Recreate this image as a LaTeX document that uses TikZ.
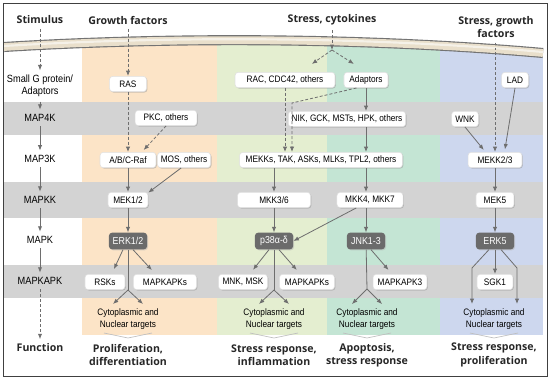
\documentclass[tikz,border=0pt]{standalone}
\usepackage{fontspec}
\setmainfont{Liberation Sans}[FakeStretch=0.88]
\newfontfamily\headfont{Open Sans}
\usetikzlibrary{arrows.meta,shadows}
\definecolor{cgrowth}{HTML}{FCE4C7}
\definecolor{cstress}{HTML}{E4EED0}
\definecolor{capop}{HTML}{C4E5D4}
\definecolor{cprolif}{HTML}{CDD7EE}
\definecolor{cband}{HTML}{D3D3D3}
\definecolor{carrow}{HTML}{6E6E6E}
\definecolor{ckinase}{HTML}{6B6B6B}
\definecolor{cmembr}{HTML}{E9DFCB}
\begin{document}
\begin{tikzpicture}[x=0.745pt, y=-0.745pt,
	every node/.style={font=\fontsize{7}{8.5}\selectfont, align=center},
	prot/.style={draw=black!12, fill=white, rounded corners=2.5pt, inner xsep=2.5pt, inner ysep=0pt, minimum height=11.5pt,
		drop shadow={shadow xshift=0.7pt, shadow yshift=-0.7pt, fill=black!40}},
	kin/.style={fill=ckinase, text=white, rounded corners=2.5pt, inner xsep=2.5pt, inner ysep=0pt, minimum height=12.5pt, minimum width=28.5pt,
		font=\fontsize{7.5}{9}\selectfont, drop shadow={shadow xshift=0.7pt, shadow yshift=-0.7pt, fill=black!30}},
	head/.style={font=\headfont\bfseries\fontsize{7.9}{10}\selectfont, text=black!85},
	lvl/.style={font=\fontsize{7.8}{9}\selectfont},
	ln/.style={draw=carrow, line width=0.6pt},
	arr/.style={ln, -{Latex[length=4pt,width=3.2pt]}},
	darr/.style={arr, dash pattern=on 2.2pt off 1.5pt}]
	\useasboundingbox (0,0) rectangle (550,379);

	\fill[cgrowth] (82,40) rectangle (217,335);
	\fill[cstress] (217,40) rectangle (327,335);
	\fill[capop] (327,40) rectangle (440,335);
	\fill[cprolif] (440,40) rectangle (543,335);
	\foreach \t/\b in {102/135,182/218,265/298}
		\fill[cband] (4,\t) rectangle (543,\b);
	\fill[white] (4,4) -- (543,4) -- (543,53) .. controls (350,36) and (150,38) .. (4,47) -- cycle;
	\draw[black!55, line width=7.5pt] (4,47) .. controls (150,38) and (350,36) .. (543,53);
	\draw[cmembr, line width=5.8pt] (4,47) .. controls (150,38) and (350,36) .. (543,53);
	\draw[white!55!cmembr, line width=1.6pt] (4,46) .. controls (150,37) and (350,35) .. (543,52);
	\draw[black!75, line width=0.6pt] (3,3) rectangle (547,376);

	\foreach \x in {128,274,367,494}
		\draw[black!25, line width=0.5pt] (\x-24,333) -- (\x,338) -- (\x+24,333);

	\node[head] (stim) at (40,20) {Stimulus};
	\node[head] (gf) at (128,20) {Growth factors};
	\node[head] (sc) at (332,20) {Stress, cytokines};
	\node[head] (sgf) at (496,27) {Stress, growth\\factors};

	\node[lvl] (lsg) at (40,86) {Small G protein/\\Adaptors};
	\node[lvl] (l4k) at (40,118) {MAP4K};
	\node[lvl] (l3k) at (40,159) {MAP3K};
	\node[lvl] (lkk) at (40,200) {MAPKK};
	\node[lvl] (lk) at (40,240) {MAPK};
	\node[lvl] (lkapk) at (40,281) {MAPKAPK};
	\node[head] (lfn) at (40,348) {Function};

	\node[prot, minimum width=27.6pt] (ras) at (128,84) {RAS};
	\node[prot, minimum width=46pt] (pkc) at (166,118) {PKC, others};
	\node[prot, minimum width=41.7pt] (raf) at (128,160) {A/B/C-Raf};
	\node[prot, minimum width=38pt] (mos) at (184,160) {MOS, others};
	\node[prot, minimum width=29.8pt] (mek12) at (128,200) {MEK1/2};
	\node[kin] (erk12) at (128,241) {ERK1/2};
	\node[prot, minimum width=29.8pt] (rsk) at (105,282) {RSKs};
	\node[prot, minimum width=47pt] (mapkapk1) at (165,282) {MAPKAPKs};
	\node (tgt1) at (128,319) {Cytoplasmic and\\Nuclear targets};
	\node[head] (fn1) at (128,355) {Proliferation,\\differentiation};

	\node[prot, minimum width=74.5pt] (rac) at (285,80) {RAC, CDC42, others};
	\node[prot, minimum width=121.4pt] (mekks) at (321,160) {MEKKs, TAK, ASKs, MLKs, TPL2, others};
	\node[prot, minimum width=54.4pt] (mkk36) at (274,200) {MKK3/6};
	\node[kin] (p38) at (274,241) {p38α-δ};
	\node[prot, minimum width=36.5pt] (mnk) at (243,282) {MNK, MSK};
	\node[prot, minimum width=41pt] (mapkapk2) at (307,282) {MAPKAPKs};
	\node (tgt2) at (274,319) {Cytoplasmic and\\Nuclear targets};
	\node[head] (fn2) at (274,355) {Stress response,\\inflammation};

	\node[prot, minimum width=32.8pt] (adapt) at (366,80) {Adaptors};
	\node[prot, minimum width=82.7pt] (nik) at (347,119) {NIK, GCK, MSTs, HPK, others};
	\node[prot, minimum width=49.2pt] (mkk47) at (370,200) {MKK4, MKK7};
	\node[kin] (jnk) at (366,241) {JNK1-3};
	\node[prot, minimum width=40.2pt] (mapkapk3) at (400,282) {MAPKAPK3};
	\node (tgt3) at (367,319) {Cytoplasmic and\\Nuclear targets};
	\node[head] (fn3) at (367,355) {Apoptosis,\\stress response};

	\node[prot, minimum width=20pt] (lad) at (515,80) {LAD};
	\node[prot, minimum width=20pt] (wnk) at (465,119) {WNK};
	\node[prot, minimum width=40.2pt] (mekk23) at (495,160) {MEKK2/3};
	\node[prot, minimum width=28.3pt] (mek5) at (495,200) {MEK5};
	\node[kin] (erk5) at (495,241) {ERK5};
	\node[prot, minimum width=26.8pt] (sgk1) at (495,282) {SGK1};
	\node (tgt4) at (494,319) {Cytoplasmic and\\Nuclear targets};
	\node[head] (fn4) at (494,355) {Stress response,\\proliferation};

	\coordinate (sp1) at (128,290);
	\coordinate (sp1a) at (113,304);
	\coordinate (sp1b) at (143,304);
	\coordinate (scs) at (332,50);
	\coordinate (bend) at (292,103);
	\coordinate (sp2) at (274,290);
	\coordinate (sp2a) at (259,304);
	\coordinate (sp2b) at (289,304);
	\coordinate (sp3) at (367,289);
	\coordinate (sp3a) at (352,304);
	\coordinate (sp3b) at (382,304);
	\coordinate (bl) at (472,268);
	\coordinate (blt) at (472,304);
	\coordinate (br) at (517,268);
	\coordinate (brt) at (517,304);

	\draw[darr] (stim) -- (lsg);
	\draw[arr] (lsg) -- (l4k);
	\draw[arr] (l4k) -- (l3k);
	\draw[arr] (l3k) -- (lkk);
	\draw[arr] (lkk) -- (lk);
	\draw[arr] (lk) -- (lkapk);
	\draw[darr] (lkapk) -- (lfn);

	\draw[darr] (gf) -- (ras);
	\draw[darr] (ras) -- (raf);
	\draw[darr, shorten >=2pt] (pkc.south) -- (raf.30);
	\draw[arr] (raf) -- (mek12);
	\draw[arr] (mos.250) -- (mek12.20);
	\draw[arr] (mek12) -- (erk12);
	\draw[arr, shorten >=4pt] (erk12.240) -- (rsk.50);
	\draw[arr, shorten >=4pt] (erk12.300) -- (mapkapk1.140);
	\draw[ln] (erk12) -- (sp1);
	\draw[arr] (sp1) -- (sp1a);
	\draw[arr] (sp1) -- (sp1b);

	\draw[darr] (sc) -- (scs);
	\draw[darr] (scs) -- ([xshift=20pt,yshift=6pt]rac.north);
	\draw[darr] (scs) -- ([xshift=-9pt,yshift=6pt]adapt.north);
	\draw[darr] (rac.south) -- (rac.south |- mekks.north);
	\draw[darr] (adapt.220) -- (bend) -- (bend |- mekks.north);
	\draw[arr] (adapt) -- (adapt |- nik.north);
	\draw[arr] (adapt |- nik.south) -- (adapt |- mekks.north);
	\draw[arr] (mkk36 |- mekks.south) -- (mkk36);
	\draw[arr] (jnk |- mekks.south) -- (jnk |- mkk47.north);
	\draw[arr] (mkk36) -- (p38);
	\draw[arr] (mkk47.210) -- (p38.east);
	\draw[arr] (jnk |- mkk47.south) -- (jnk);
	\draw[arr, shorten >=4pt] (p38.240) -- (mnk.50);
	\draw[arr, shorten >=4pt] (p38.300) -- (mapkapk2.130);
	\draw[ln] (p38) -- (sp2);
	\draw[arr] (sp2) -- (sp2a);
	\draw[arr] (sp2) -- (sp2b);
	\draw[arr, shorten >=4pt] (jnk.300) -- (mapkapk3.135);
	\draw[ln] (jnk) -- (sp3);
	\draw[arr] (sp3) -- (sp3a);
	\draw[arr] (sp3) -- (sp3b);

	\draw[darr] (mekk23 |- sgf.south) -- (mekk23);
	\draw[arr, shorten >=2pt] (lad.south) -- (mekk23.40);
	\draw[arr, shorten >=2pt] (wnk.south) -- (mekk23.140);
	\draw[arr] (mekk23) -- (mek5);
	\draw[arr] (mek5) -- (erk5);
	\draw[arr] (erk5) -- (sgk1);
	\draw[arr] (erk5.235) -- (bl) -- (blt);
	\draw[arr] (erk5.305) -- (br) -- (brt);
\end{tikzpicture}
\end{document}
